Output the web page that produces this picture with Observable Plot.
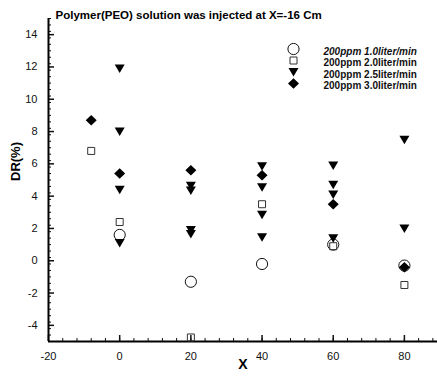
<!DOCTYPE html>
<html>
<head>
<meta charset="utf-8">
<script src="https://cdn.jsdelivr.net/npm/d3@7"></script>
<script src="https://cdn.jsdelivr.net/npm/@observablehq/plot@0.6"></script>
<style>
  html, body { margin: 0; padding: 0; background: white; }
  #wrap { position: relative; width: 437px; height: 380px; }
  #axes svg { font-size: 11px; }
  #marks { position: absolute; left: 0; top: 0; }
</style>
</head>
<body>
<div id="wrap"><div id="axes"></div><div id="marks"></div></div>
<script>
// ---- data ----
const title = "Polymer(PEO) solution was injected at X=-16 Cm";
const xLabel = "X";
const yLabel = "DR(%)";
const xDomain = [-20, 89.3];
const yDomain = [-5, 15];
const xTicks = [-20, 0, 20, 40, 60, 80];
const yTicks = [-4, -2, 0, 2, 4, 6, 8, 10, 12, 14];

const seriesNames = [
  "200ppm 1.0liter/min",
  "200ppm 2.0liter/min",
  "200ppm 2.5liter/min",
  "200ppm 3.0liter/min"
];

// 200ppm 1.0 liter/min (open circles)
const s1x = [0, 20, 40, 60, 80];
const s1y = [1.6, -1.3, -0.2, 1.0, -0.3];
// 200ppm 2.0 liter/min (open squares)
const s2x = [-8, 0, 20, 40, 60, 80];
const s2y = [6.8, 2.4, -4.75, 3.5, 0.9, -1.5];
// 200ppm 2.5 liter/min (filled down triangles)
const s3x = [0, 0, 0, 0, 20, 20, 20, 20, 40, 40, 40, 40, 60, 60, 60, 60, 80, 80];
const s3y = [11.9, 8.0, 4.4, 1.1, 4.65, 4.35, 1.9, 1.65, 5.85, 4.55, 2.85, 1.45, 5.9, 4.7, 4.1, 1.4, 7.5, 2.0];
// 200ppm 3.0 liter/min (filled diamonds)
const s4x = [-8, 0, 20, 40, 60, 80];
const s4y = [8.7, 5.4, 5.6, 5.3, 3.5, -0.4];

const toRows = (xs, ys) => xs.map((x, i) => ({x, y: ys[i]}));

// ---- symbols ----
const rOf = size => Math.sqrt(size / Math.PI);
const symCircle = {draw(c, s) { const r = rOf(s); c.moveTo(r, 0); c.arc(0, 0, r, 0, 2 * Math.PI); c.closePath(); }};
const symSquare = {draw(c, s) { const r = rOf(s); c.rect(-r, -r, 2 * r, 2 * r); }};
const symTri = {draw(c, s) { const r = rOf(s); c.moveTo(-r, -0.8 * r); c.lineTo(r, -0.8 * r); c.lineTo(0, 0.9 * r); c.closePath(); }};
const symDia = {draw(c, s) { const r = rOf(s); c.moveTo(0, -r * 0.95); c.lineTo(r, 0); c.lineTo(0, r * 0.95); c.lineTo(-r, 0); c.closePath(); }};

const styles = [
  {symbol: symCircle, r: 5.6, fill: "none", stroke: "#111", strokeWidth: 1},
  {symbol: symSquare, r: 3.5, fill: "none", stroke: "#333", strokeWidth: 1},
  {symbol: symTri, r: 5, fill: "#000"},
  {symbol: symDia, r: 5.5, fill: "#000"}
];

const W = 437, H = 380;
const mL = 48, mR = 0, mT = 18, mB = 39;
const fw = W - mL - mR, fh = H - mT - mB;

const yMinor = d3.range(yDomain[0], yDomain[1] + 1e-9, 0.4).map(v => +v.toFixed(2));
const xMinor = d3.range(xDomain[0], xDomain[1], 4);

// ---- layer 1: axes (tick labels, inward ticks, axis lines) ----
const axes = Plot.plot({
  width: W, height: H,
  marginLeft: mL, marginRight: mR, marginTop: mT, marginBottom: mB,
  style: {fontFamily: "Arial, 'Liberation Sans', sans-serif", background: "white", color: "#111", overflow: "visible"},
  x: {domain: xDomain, ticks: xTicks, tickSize: 0, tickPadding: 11, label: null, tickFormat: d => String(d)},
  y: {domain: yDomain, ticks: yTicks, tickSize: 0, tickPadding: 11, label: null, tickFormat: d => String(d)},
  marks: [
    Plot.tickY(yMinor, {y: d => d, insetRight: fw - 3, stroke: "#111", strokeWidth: 1}),
    Plot.tickY(yTicks, {y: d => d, insetRight: fw - 6, stroke: "#111", strokeWidth: 1.5}),
    Plot.tickX(xMinor, {x: d => d, insetTop: fh - 3, stroke: "#111", strokeWidth: 1}),
    Plot.tickX(xTicks, {x: d => d, insetTop: fh - 6, stroke: "#111", strokeWidth: 1.5}),
    Plot.ruleX([xDomain[0]], {stroke: "#000", strokeWidth: 2}),
    Plot.ruleY([yDomain[0]], {stroke: "#000", strokeWidth: 2})
  ]
});
document.getElementById("axes").appendChild(axes);

// ---- layer 2: data points, legend, titles (same scales, transparent) ----
const legendMarks = seriesNames.flatMap((name, i) => [
  Plot.dot([name], {frameAnchor: "top-left", dx: 245, dy: 30.5 + i * 11.5, ...styles[i]}),
  Plot.text([name], {frameAnchor: "top-left", dx: 275, dy: 29 + i * 11.5, textAnchor: "start", fontSize: 10, fontWeight: "bold", fontStyle: i === 0 ? "italic" : "normal", fill: "#111"})
]);

const marks = Plot.plot({
  width: W, height: H,
  marginLeft: mL, marginRight: mR, marginTop: mT, marginBottom: mB,
  style: {fontFamily: "Arial, 'Liberation Sans', sans-serif", background: "transparent"},
  x: {domain: xDomain, axis: null},
  y: {domain: yDomain, axis: null},
  marks: [
    Plot.dot(toRows(s1x, s1y), {x: "x", y: "y", ...styles[0]}),
    Plot.dot(toRows(s2x, s2y), {x: "x", y: "y", ...styles[1]}),
    Plot.dot(toRows(s3x, s3y), {x: "x", y: "y", ...styles[2]}),
    Plot.dot(toRows(s4x, s4y), {x: "x", y: "y", ...styles[3]}),
    ...legendMarks,
    Plot.text([title], {frameAnchor: "top-left", textAnchor: "start", dx: 7, dy: -8, fontWeight: "bold", fontSize: 11.5, fill: "#000"}),
    Plot.text([xLabel], {frameAnchor: "bottom", dy: 27, fontWeight: "bold", fontSize: 14, fill: "#000"}),
    Plot.text([yLabel], {frameAnchor: "left", rotate: -90, dx: -33, dy: 1, fontWeight: "bold", fontSize: 13, fill: "#000"})
  ]
});
document.getElementById("marks").appendChild(marks);
</script>
</body>
</html>
